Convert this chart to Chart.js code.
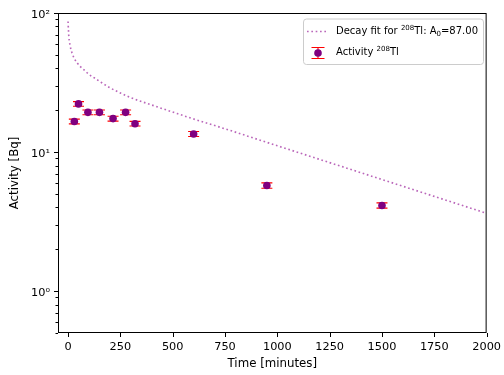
<!DOCTYPE html>
<html>
<head>
<meta charset="utf-8">
<script src="https://cdn.jsdelivr.net/npm/chart.js@4.4.1/dist/chart.umd.min.js"></script>
<style>
  html, body { margin: 0; padding: 0; background: #fff; }
  #wrap { width: 504px; height: 375px; position: relative; }
</style>
</head>
<body>
<div id="wrap"><canvas id="chart"></canvas></div>
<script>
// Measured 208Tl activity (minutes, Bq) with uncertainties
const timesMin = [30, 50, 95, 150, 215, 275, 320, 600, 950, 1500];
const activityBq = [16.6, 22.2, 19.3, 19.3, 17.4, 19.3, 16.0, 13.5, 5.75, 4.13];
const activityErr = [0.65, 0.85, 0.75, 0.75, 0.7, 0.75, 0.62, 0.55, 0.25, 0.18];

// Fitted decay curve samples
const fitTimes = [0, 1, 2, 3, 4, 6, 8, 10, 15, 20, 30, 45, 60, 80, 100, 125, 150, 200, 250, 300, 400, 500, 600, 750, 1000, 1250, 1500, 1750, 2000];
const fitActivity = [87.0, 80.0, 75.0, 70.5, 67.0, 63.0, 60.5, 58.0, 54.0, 51.0, 47.0, 43.5, 41.0, 38.6, 36.2, 34.2, 32.3, 29.0, 26.6, 24.6, 21.8, 19.4, 17.3, 14.7, 11.1, 8.4, 6.35, 4.8, 3.63];

// Axis ticks
const xTicks = [0, 250, 500, 750, 1000, 1250, 1500, 1750, 2000];
const yTicks = [0.5, 0.6, 0.7, 0.8, 0.9, 1, 2, 3, 4, 5, 6, 7, 8, 9, 10, 20, 30, 40, 50, 60, 70, 80, 90, 100];
const yMajorTicks = [1, 10, 100];
const yMajorLabels = ['10\u2070', '10\u00b9', '10\u00b2'];

const FONT = 'DejaVu Sans';
const TICK_FS = 11.3;
const TITLE_FS = 11.8;
const LEGEND_FS = 10;
const FIT_COLOR = 'rgba(140,0,140,0.6)';
const POINT_COLOR = '#800080';
const ERR_COLOR = '#ff0000';

Chart.defaults.font.family = FONT;
Chart.defaults.font.size = TICK_FS;
Chart.defaults.color = '#000';

// Vertical error bars with caps, drawn beneath the markers
const errorBars = {
  id: 'errorBars',
  beforeDatasetsDraw(chart) {
    const {ctx, scales: {x, y}} = chart;
    ctx.save();
    ctx.strokeStyle = ERR_COLOR;
    ctx.lineWidth = 1.1;
    timesMin.forEach((t, i) => {
      const px = x.getPixelForValue(t);
      const yLo = y.getPixelForValue(activityBq[i] - activityErr[i]);
      const yHi = y.getPixelForValue(activityBq[i] + activityErr[i]);
      ctx.beginPath();
      ctx.moveTo(px, yLo); ctx.lineTo(px, yHi);
      ctx.moveTo(px - 5.5, yLo); ctx.lineTo(px + 5.5, yLo);
      ctx.moveTo(px - 5.5, yHi); ctx.lineTo(px + 5.5, yHi);
      ctx.stroke();
    });
    ctx.restore();
  }
};

// Box frame around the plot area plus outward tick marks
const frameAndTicks = {
  id: 'frameAndTicks',
  afterDraw(chart) {
    const {ctx, chartArea: a, scales: {x, y}} = chart;
    ctx.save();
    ctx.strokeStyle = '#000';
    ctx.lineWidth = 1;
    ctx.strokeRect(a.left + 0.5, a.top + 0.5, a.right - a.left - 1, a.bottom - a.top - 1);
    ctx.beginPath();
    xTicks.forEach(v => {
      const px = Math.round(x.getPixelForValue(v)) + 0.5;
      ctx.moveTo(px, a.bottom);
      ctx.lineTo(px, a.bottom + 4);
    });
    yTicks.forEach(v => {
      const py = Math.round(y.getPixelForValue(v)) + 0.5;
      const len = yMajorTicks.includes(v) ? 4 : 2.5;
      ctx.moveTo(a.left, py);
      ctx.lineTo(a.left - len, py);
    });
    ctx.stroke();
    ctx.restore();
  }
};

// Draws a run of text pieces, some raised or lowered in a smaller size
function drawRich(ctx, x, yMid, parts, fs) {
  let cx = x;
  parts.forEach(p => {
    const small = p.sup || p.sub;
    const size = small ? fs * 0.7 : fs;
    ctx.font = size + 'px "' + FONT + '"';
    ctx.textBaseline = 'middle';
    let dy = 0;
    if (p.sup) dy = -3.6;
    if (p.sub) dy = 2.3;
    ctx.fillText(p.t, cx, yMid + dy);
    cx += ctx.measureText(p.t).width;
  });
}

// Legend box in the upper right of the plot
const legendBox = {
  id: 'legendBox',
  afterDraw(chart) {
    const {ctx} = chart;
    const bx = 303, by = 18.5, bw = 180, bh = 45.5, r = 3;
    ctx.save();
    ctx.beginPath();
    ctx.roundRect(bx + 0.5, by + 0.5, bw, bh, r);
    ctx.fillStyle = 'rgba(255,255,255,0.8)';
    ctx.fill();
    ctx.strokeStyle = '#cccccc';
    ctx.lineWidth = 1;
    ctx.stroke();

    // fit line sample
    ctx.strokeStyle = FIT_COLOR;
    ctx.lineWidth = 1.64;
    ctx.setLineDash([1.64, 2.7]);
    ctx.beginPath();
    ctx.moveTo(307, 31.5);
    ctx.lineTo(328, 31.5);
    ctx.stroke();
    ctx.setLineDash([]);

    // errorbar sample
    const ex = 318, ey = 53;
    ctx.strokeStyle = ERR_COLOR;
    ctx.lineWidth = 1.1;
    ctx.beginPath();
    ctx.moveTo(ex, ey - 5.5); ctx.lineTo(ex, ey + 5.5);
    ctx.moveTo(ex - 6.5, ey - 5.5); ctx.lineTo(ex + 6.5, ey - 5.5);
    ctx.moveTo(ex - 6.5, ey + 5.5); ctx.lineTo(ex + 6.5, ey + 5.5);
    ctx.stroke();
    ctx.fillStyle = POINT_COLOR;
    ctx.beginPath();
    ctx.arc(ex, ey, 3.8, 0, Math.PI * 2);
    ctx.fill();

    ctx.fillStyle = '#000';
    drawRich(ctx, 336, 31.5, [
      {t: 'Decay fit for '}, {t: '208', sup: true}, {t: 'Tl: A'}, {t: '0', sub: true}, {t: '=87.00'}
    ], LEGEND_FS);
    drawRich(ctx, 336, 52.5, [
      {t: 'Activity '}, {t: '208', sup: true}, {t: 'Tl'}
    ], LEGEND_FS);
    ctx.restore();
  }
};

new Chart(document.getElementById('chart'), {
  type: 'scatter',
  data: {
    datasets: [
      {
        label: 'Decay fit for 208Tl: A0=87.00',
        data: fitTimes.map((t, i) => ({x: t, y: fitActivity[i]})),
        showLine: true,
        borderColor: FIT_COLOR,
        borderWidth: 1.64,
        borderDash: [1.64, 2.7],
        cubicInterpolationMode: 'monotone',
        pointRadius: 0,
        pointHoverRadius: 0,
        fill: false
      },
      {
        label: 'Activity 208Tl',
        data: timesMin.map((t, i) => ({x: t, y: activityBq[i]})),
        showLine: false,
        pointRadius: 3.8,
        pointHoverRadius: 3.8,
        pointBackgroundColor: POINT_COLOR,
        pointBorderWidth: 0,
        backgroundColor: POINT_COLOR
      }
    ]
  },
  options: {
    responsive: true,
    maintainAspectRatio: false,
    animation: false,
    events: [],
    layout: { padding: { left: 0, top: 13, right: 16, bottom: 0 } },
    plugins: {
      legend: { display: false },
      tooltip: { enabled: false }
    },
    scales: {
      x: {
        type: 'linear',
        min: -48,
        max: 2000,
        afterBuildTicks: s => { s.ticks = xTicks.map(v => ({value: v})); },
        afterFit: s => { s.height = 42; },
        grid: { display: true, drawOnChartArea: false, drawTicks: true, tickLength: 4, tickColor: 'rgba(0,0,0,0)' },
        border: { display: false },
        ticks: { autoSkip: false, maxRotation: 0, padding: 3, color: '#000', font: { size: TICK_FS }, callback: v => String(v) },
        title: { display: true, text: 'Time [minutes]', color: '#000', font: { size: TITLE_FS }, padding: { top: 4, bottom: 4 } }
      },
      y: {
        type: 'logarithmic',
        min: 0.5,
        max: 100,
        afterBuildTicks: s => { s.ticks = yTicks.map(v => ({value: v})); },
        afterFit: s => { s.width = 58; },
        grid: { display: true, drawOnChartArea: false, drawTicks: true, tickLength: 4, tickColor: 'rgba(0,0,0,0)' },
        border: { display: false },
        ticks: {
          autoSkip: false,
          padding: 4,
          labelOffset: 2,
          color: '#000',
          font: { size: TICK_FS },
          callback: v => {
            const k = yMajorTicks.indexOf(v);
            return k >= 0 ? yMajorLabels[k] : '';
          }
        },
        title: { display: true, text: 'Activity [Bq]', color: '#000', font: { size: TITLE_FS }, padding: { top: 8, bottom: 0 } }
      }
    }
  },
  plugins: [errorBars, frameAndTicks, legendBox]
});
</script>
</body>
</html>
